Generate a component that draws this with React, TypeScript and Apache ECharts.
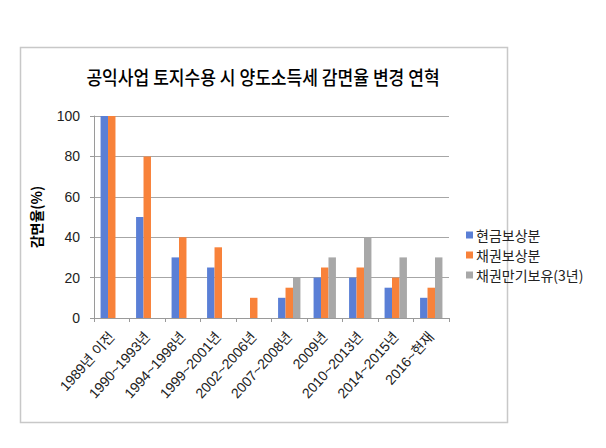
import React, { useEffect, useRef } from "react";
import * as echarts from "echarts";

const categories = [
  "1989년 이전",
  "1990~1993년",
  "1994~1998년",
  "1999~2001년",
  "2002~2006년",
  "2007~2008년",
  "2009년",
  "2010~2013년",
  "2014~2015년",
  "2016~현재",
];
const cashComp = [100, 50, 30, 25, null, 10, 20, 20, 15, 10];
const bondComp = [100, 80, 40, 35, 10, 15, 25, 25, 20, 15];
const bondMaturity = [null, null, null, null, null, 20, 30, 40, 30, 30];
const seriesNames = ["현금보상분", "채권보상분", "채권만기보유(3년)"];
const colors = ["#5a7fd6", "#f8823a", "#a8a8a8"];
const yTicks = { min: 0, max: 100, interval: 20 };
const titleText = "공익사업 토지수용 시 양도소득세 감면율 변경 연혁";

const FONT = "'Liberation Sans', 'Noto Sans CJK KR', sans-serif";

export default function App() {
  const ref = useRef<HTMLDivElement>(null);
  useEffect(() => {
    document.body.style.margin = "0";
    const chart = echarts.init(ref.current!, null, { renderer: "svg" });
    const data = [cashComp, bondComp, bondMaturity];
    chart.setOption({
      animation: false,
      backgroundColor: "#ffffff",
      textStyle: { fontFamily: FONT },
      graphic: [
        {
          type: "rect",
          shape: { x: 20.5, y: 47.5, width: 487, height: 375 },
          style: { fill: "none", stroke: "#c8c8c8", lineWidth: 1.5 },
          silent: true,
        },
        {
          type: "text",
          x: 263,
          y: 77,
          scaleX: 0.9,
          style: {
            text: titleText,
            align: "center",
            verticalAlign: "middle",
            fontFamily: "'Noto Sans CJK KR', sans-serif",
            fontSize: 19,
            fontWeight: 500,
            fill: "#000",
          },
          silent: true,
        },
      ],
      legend: {
        orient: "vertical",
        left: 461,
        top: 223,
        itemWidth: 7,
        itemHeight: 7,
        itemGap: 6,
        icon: "rect",
        data: seriesNames,
        textStyle: {
          fontFamily: "'Noto Sans CJK KR', sans-serif",
          fontSize: 14,
          color: "#222",
          padding: [0, 0, 0, -2],
        },
      },
      grid: { left: 94, right: 157, top: 116, bottom: 130 },
      xAxis: {
        type: "category",
        data: categories,
        axisLine: { lineStyle: { color: "#9a9a9a", width: 1 } },
        axisTick: { show: true, length: 4, lineStyle: { color: "#9a9a9a" } },
        axisLabel: {
          rotate: 48,
          interval: 0,
          fontSize: 14,
          color: "#222",
          margin: 16,
          fontFamily: FONT,
        },
      },
      yAxis: {
        type: "value",
        min: yTicks.min,
        max: yTicks.max,
        interval: yTicks.interval,
        name: "감면율(%)",
        nameLocation: "middle",
        nameRotate: 90,
        nameGap: 51,
        nameTextStyle: {
          fontFamily: "'Noto Sans CJK KR', sans-serif",
          fontSize: 14,
          fontWeight: "bold",
          color: "#000",
        },
        axisLine: { show: true, lineStyle: { color: "#9a9a9a", width: 1 } },
        axisTick: { show: true, length: 4, lineStyle: { color: "#9a9a9a" } },
        axisLabel: { fontSize: 14, color: "#222", margin: 14, fontFamily: FONT },
        splitLine: { lineStyle: { color: "#a6a6a6", width: 1 } },
      },
      series: seriesNames.map((name, i) => ({
        name,
        type: "bar",
        data: data[i],
        itemStyle: { color: colors[i] },
        barGap: "0%",
        barCategoryGap: "37%",
      })),
    });
    return () => chart.dispose();
  }, []);
  return <div ref={ref} style={{ width: 606, height: 448 }} />;
}
